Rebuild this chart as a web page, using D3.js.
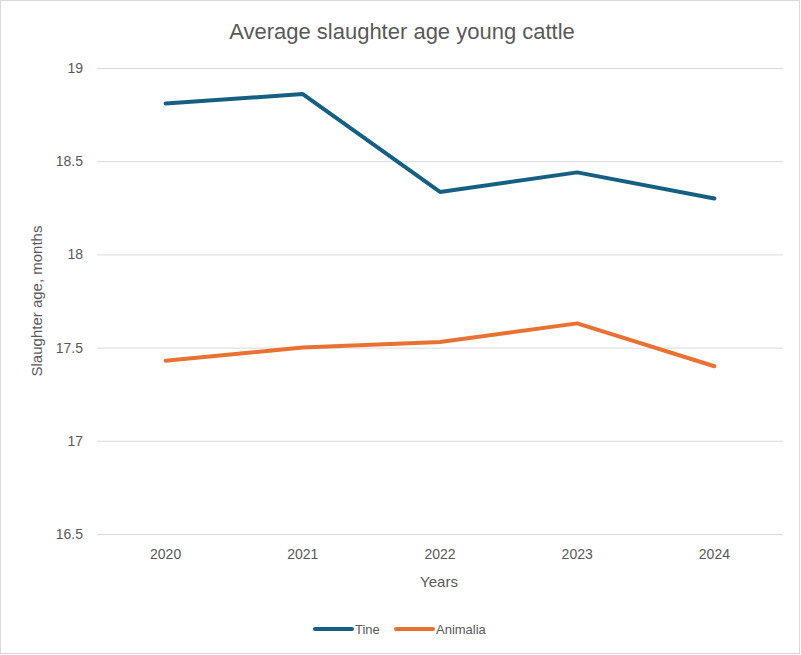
<!DOCTYPE html>
<html>
<head>
<meta charset="utf-8">
<script src="https://cdn.jsdelivr.net/npm/d3@7"></script>
<style>
  body { margin: 0; background: #fff; }
  svg { display: block; }
</style>
</head>
<body>
<svg></svg>
<script>
// Chart data
const years = ["2020", "2021", "2022", "2023", "2024"];
const tine = [18.81, 18.86, 18.335, 18.44, 18.30];
const animalia = [17.43, 17.50, 17.53, 17.63, 17.40];
const yTicks = [16.5, 17, 17.5, 18, 18.5, 19];
const seriesNames = ["Tine", "Animalia"];
const seriesColors = ["#156082", "#e97132"];

const width = 801;
const height = 655;
const font = "'Liberation Sans', Arial, sans-serif";

const svg = d3.select("svg")
    .attr("width", width)
    .attr("height", height);

// Outer border
svg.append("rect")
    .attr("x", 0.5).attr("y", 0.5)
    .attr("width", width - 2).attr("height", height - 2)
    .attr("fill", "#fff")
    .attr("stroke", "#d9d9d9");

const margin = { left: 97, right: 18, top: 68, bottom: 121 };

const x = d3.scaleBand()
    .domain(years)
    .range([margin.left, width - margin.right]);

const y = d3.scaleLinear()
    .domain([16.5, 19])
    .range([height - margin.bottom, margin.top]);

// Gridlines and y ticks
const yAxis = d3.axisLeft(y)
    .tickValues(yTicks)
    .tickSize(-(width - margin.left - margin.right))
    .tickPadding(14)
    .tickFormat(d => d3.format("")(d));

const gy = svg.append("g")
    .attr("transform", `translate(${margin.left},0)`)
    .call(yAxis);
gy.select(".domain").remove();
gy.selectAll(".tick line").attr("stroke", "#d9d9d9");
gy.selectAll(".tick text")
    .attr("fill", "#595959")
    .style("font-family", font)
    .style("font-size", "14px");

// X axis labels
const xAxis = d3.axisBottom(x).tickSize(0).tickPadding(15);
const gx = svg.append("g")
    .attr("transform", `translate(0,${height - margin.bottom})`)
    .call(xAxis);
gx.select(".domain").remove();
gx.selectAll(".tick text")
    .attr("fill", "#595959")
    .style("font-family", font)
    .style("font-size", "14px");

// Title
svg.append("text")
    .attr("x", 402).attr("y", 39)
    .attr("text-anchor", "middle")
    .attr("fill", "#595959")
    .style("font-family", font)
    .style("font-size", "22px")
    .text("Average slaughter age young cattle");

// Axis titles
svg.append("text")
    .attr("x", 439).attr("y", 587)
    .attr("text-anchor", "middle")
    .attr("fill", "#595959")
    .style("font-family", font)
    .style("font-size", "15px")
    .text("Years");

svg.append("text")
    .attr("transform", "translate(42,301) rotate(-90)")
    .attr("text-anchor", "middle")
    .attr("fill", "#595959")
    .style("font-family", font)
    .style("font-size", "15px")
    .text("Slaughter age, months");

// Lines
const line = d3.line()
    .x((d, i) => x(years[i]) + x.bandwidth() / 2)
    .y(d => y(d));

[tine, animalia].forEach((values, i) => {
    svg.append("path")
        .datum(values)
        .attr("d", line)
        .attr("fill", "none")
        .attr("stroke", seriesColors[i])
        .attr("stroke-width", 4)
        .attr("stroke-linejoin", "round")
        .attr("stroke-linecap", "round");
});

// Legend
const legendX = [315, 396];
seriesNames.forEach((name, i) => {
    const g = svg.append("g").attr("transform", `translate(${legendX[i]},629)`);
    g.append("line")
        .attr("x1", 0).attr("x2", 37)
        .attr("stroke", seriesColors[i])
        .attr("stroke-width", 4)
        .attr("stroke-linecap", "round");
    g.append("text")
        .attr("x", 40).attr("y", 5)
        .attr("fill", "#595959")
        .style("font-family", font)
        .style("font-size", "13px")
        .text(name);
});
</script>
</body>
</html>
